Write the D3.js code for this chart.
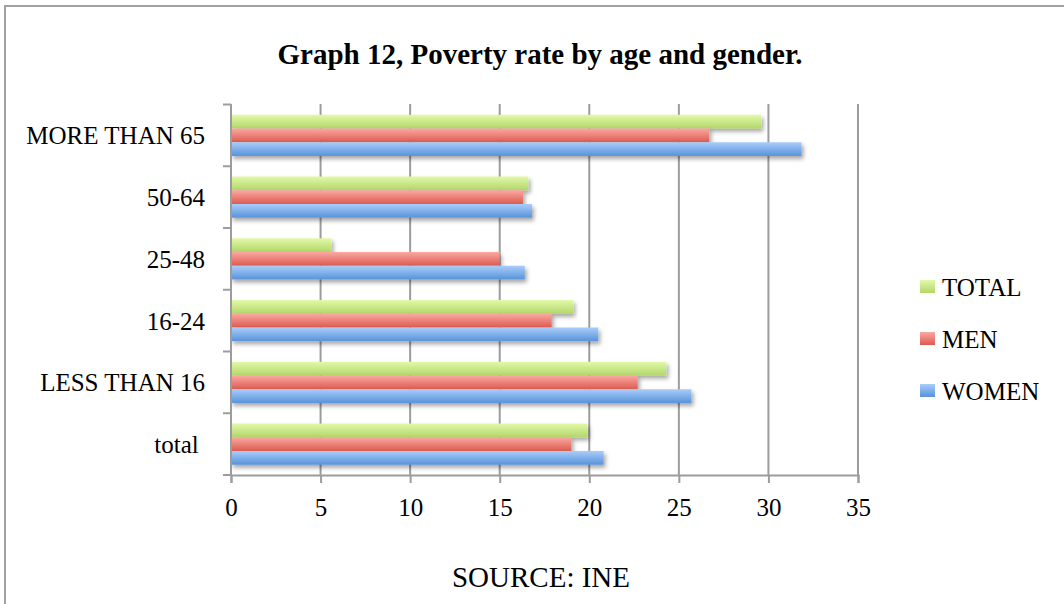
<!DOCTYPE html>
<html>
<head>
<meta charset="utf-8">
<script src="https://cdn.jsdelivr.net/npm/d3@7"></script>
<style>
  html, body { margin: 0; padding: 0; background: #fff; }
  svg text { white-space: pre; }
</style>
</head>
<body>
<svg id="chart" width="1064" height="604"></svg>
<script>
// ---- data ----
const categories = ["MORE THAN 65", "50-64", "25-48", "16-24", "LESS THAN 16", "total "];
const seriesNames = ["TOTAL", "MEN", "WOMEN"];
const totalValues = [29.6, 16.6, 5.6, 19.1, 24.3, 19.9];
const menValues   = [26.7, 16.3, 15.0, 17.9, 22.7, 19.0];
const womenValues = [31.85, 16.8, 16.4, 20.5, 25.7, 20.8];
const xTicks = [0, 5, 10, 15, 20, 25, 30, 35];
const titleText = "Graph 12, Poverty rate by age and gender.";
const sourceText = "SOURCE: INE";

const seriesValues = { TOTAL: totalValues, MEN: menValues, WOMEN: womenValues };
const seriesColors = {
  TOTAL: ["#e2f9a8", "#b3d66a"],
  MEN:   ["#fba8a3", "#dc5b4f"],
  WOMEN: ["#a9cdfa", "#5893da"]
};

const svg = d3.select("#chart");
const defs = svg.append("defs");

seriesNames.forEach((s, i) => {
  const g = defs.append("linearGradient").attr("id", "grad" + i)
    .attr("x1", 0).attr("y1", 0).attr("x2", 0).attr("y2", 1);
  g.append("stop").attr("offset", "0%").attr("stop-color", seriesColors[s][0]);
  g.append("stop").attr("offset", "100%").attr("stop-color", seriesColors[s][1]);
});
const f = defs.append("filter").attr("id", "shadow")
  .attr("x", "-5%").attr("y", "-30%").attr("width", "115%").attr("height", "180%");
f.append("feDropShadow").attr("dx", 2).attr("dy", 3).attr("stdDeviation", 2)
  .attr("flood-color", "#000").attr("flood-opacity", 0.35);

// outer frame
svg.append("rect").attr("x", 5).attr("y", 6).attr("width", 1080).attr("height", 620)
  .attr("fill", "#fff").attr("stroke", "#a0a0a0").attr("stroke-width", 2);

// title
svg.append("text").attr("x", 540).attr("y", 64).attr("text-anchor", "middle")
  .attr("font-family", "Liberation Serif").attr("font-weight", "bold").attr("font-size", 29)
  .attr("fill", "#000").text(titleText);

const x = d3.scaleLinear().domain([0, 35]).range([231, 858]);
const y = d3.scaleBand().domain(categories).range([104.5, 475]).padding(0);
const ys = d3.scaleBand().domain(seriesNames).range([0, y.bandwidth()])
  .paddingInner(0).paddingOuter(0.75);

// gridlines
svg.append("g").selectAll("line").data(xTicks.filter(t => t > 0)).join("line")
  .attr("x1", d => x(d)).attr("x2", d => x(d))
  .attr("y1", 104).attr("y2", 475)
  .attr("stroke", "#9c9c9c").attr("stroke-width", 2);

// bars
const groups = svg.append("g").selectAll("g").data(categories).join("g")
  .attr("transform", d => `translate(0,${y(d)})`);
seriesNames.forEach((s, si) => {
  groups.append("rect")
    .attr("x", x(0))
    .attr("y", ys(s))
    .attr("height", ys.bandwidth())
    .attr("width", (d, i) => x(seriesValues[s][i]) - x(0))
    .attr("fill", `url(#grad${si})`)
    .attr("filter", "url(#shadow)");
});

// left axis
const yAxis = svg.append("g");
yAxis.append("line").attr("x1", x(0)).attr("x2", x(0)).attr("y1", 104).attr("y2", 476)
  .attr("stroke", "#9c9c9c").attr("stroke-width", 2);
const boundaries = categories.map(c => y(c)).concat([y.range()[1]]);
yAxis.selectAll("line.tick").data(boundaries).join("line").attr("class", "tick")
  .attr("x1", x(0) - 8).attr("x2", x(0)).attr("y1", d => d).attr("y2", d => d)
  .attr("stroke", "#9c9c9c").attr("stroke-width", 2);
yAxis.selectAll("text").data(categories).join("text")
  .attr("x", 205).attr("y", d => y(d) + y.bandwidth() / 2)
  .attr("dy", "0.36em").attr("text-anchor", "end")
  .attr("font-family", "Liberation Serif").attr("font-size", 25).attr("fill", "#000")
  .text(d => d);

// bottom axis
const xAxis = svg.append("g").attr("transform", "translate(0,475)")
  .call(d3.axisBottom(x).tickValues(xTicks).tickSize(8).tickPadding(15).tickFormat(d3.format("d")));
xAxis.select(".domain").attr("stroke", "#9c9c9c").attr("stroke-width", 2);
xAxis.selectAll(".tick line").attr("stroke", "#9c9c9c").attr("stroke-width", 2);
xAxis.selectAll(".tick text").attr("font-family", "Liberation Serif").attr("font-size", 25)
  .attr("fill", "#000");

// source
svg.append("text").attr("x", 541).attr("y", 587).attr("text-anchor", "middle")
  .attr("font-family", "Liberation Serif").attr("font-size", 29).attr("fill", "#000")
  .text(sourceText);

// legend
const legend = svg.append("g").selectAll("g").data(seriesNames).join("g")
  .attr("transform", (d, i) => `translate(920,${287 + i * 52})`);
legend.append("rect").attr("x", 0).attr("y", -7).attr("width", 15).attr("height", 13)
  .attr("fill", (d, i) => `url(#grad${i})`);
legend.append("text").attr("x", 22).attr("y", 0).attr("dy", "0.36em")
  .attr("font-family", "Liberation Serif").attr("font-size", 25).attr("fill", "#000")
  .text(d => d);
</script>
</body>
</html>
